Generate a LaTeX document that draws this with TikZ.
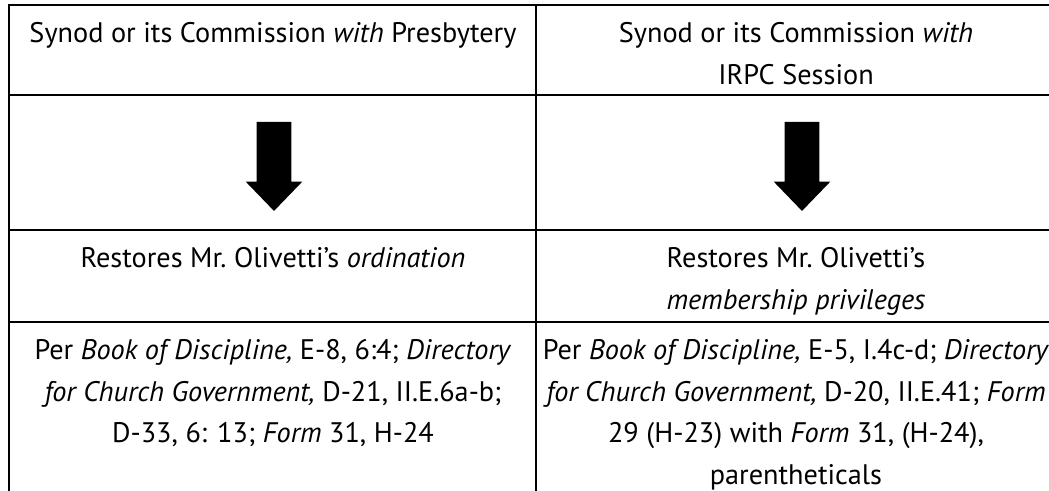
\documentclass[tikz,border=0pt]{standalone}
\usepackage{fontspec}
\setmainfont{PT Sans}
\usetikzlibrary{shapes.arrows,positioning}

\begin{document}
\begin{tikzpicture}[x=0.75pt, y=-0.75pt,
        cell/.style={align=center, inner sep=0pt, anchor=north, font=\fontsize{21.2}{31.3}\selectfont},
        rule/.style={line width=2.1pt},
        downarrow/.style={single arrow, draw=none, fill=black, rotate=-90, inner xsep=0pt, inner ysep=12.75pt,
            minimum height=66.75pt, single arrow head extend=8.25pt, single arrow tip angle=88}]
        \useasboundingbox (0,0) rectangle (1049,490);

        % Table rules
        \draw[rule] (9,495) -- (9,5) -- (1055,5);
        \draw[rule] (536,5) -- (536,495);
        \draw[rule] (9,95) -- (1055,95);
        \draw[rule] (9,230) -- (1055,230);
        \draw[rule] (9,322) -- (1055,322);

        % Row 1: who acts
        \node[cell] (actorPres) at (273,22) {Synod or its Commission \emph{with} Presbytery};
        \node[cell] (actorSess) at (796,22) {Synod or its Commission \emph{with}\\IRPC Session};

        % Row 2: arrows
        \node[downarrow] (arrowPres) at (274,157.5) {};
        \node[downarrow] (arrowSess) at (802,157.5) {};

        % Row 3: outcome
        \node[cell] (restOrd) at (273,247) {Restores Mr.~Olivetti’s \emph{ordination}};
        \node[cell] (restMem) at (796,247) {Restores Mr.~Olivetti’s\\\emph{membership privileges}};

        % Row 4: references
        \node[cell] (refPres) at (273,339) {Per \emph{Book of Discipline,} E-8, 6:4; \emph{Directory}\\
            \emph{for Church Government,} D-21, II.E.6a-b;\\D-33, 6: 13; \emph{Form} 31, H-24};
        \node[cell] (refSess) at (796,339) {Per \emph{Book of Discipline,} E-5, I.4c-d; \emph{Directory}\\
            \emph{for Church Government,} D-20, II.E.41; \emph{Form}\\29 (H-23) with \emph{Form} 31, (H-24),\\parentheticals};
    \end{tikzpicture}
\end{document}
